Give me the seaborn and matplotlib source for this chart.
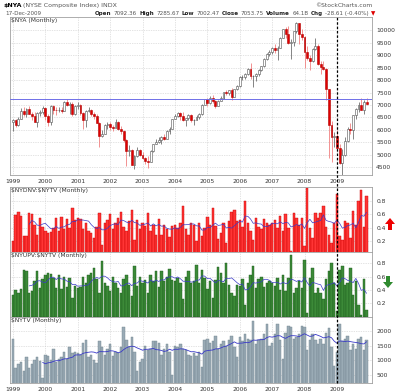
import numpy as np
import pandas as pd
import matplotlib
matplotlib.use("Agg")
import matplotlib.pyplot as plt
import seaborn as sns
from matplotlib.lines import Line2D
from matplotlib.patches import FancyArrow
import matplotlib.transforms as mtransforms

sns.set_style("white")
plt.rcParams['font.family'] = ['DejaVu Sans']
plt.rcParams['text.parse_math'] = False

# ---------------- data ----------------
year_labels = [str(y) for y in range(1999, 2010)]
month_labels = [str(p) for p in pd.period_range('1999-01', '2009-12', freq='M')]
marker_month = '2009-01'
resistance_level = 7230

nya_open = [6300, 6380, 6200, 6450, 6760, 6640, 6850, 6650, 6560, 6330, 6660, 6700,
            6880, 6570, 6310, 6940, 6800, 6790, 6800, 6750, 7130, 6990, 7030, 6620,
            6950, 7010, 6660, 6390, 6740, 6800, 6620, 6570, 6280, 5760, 5850, 6200,
            6240, 6110, 6090, 6310, 6030, 5970, 5600, 5150, 5180, 4610, 4950, 5210,
            5000, 4870, 4750, 4730, 5140, 5440, 5510, 5600, 5720, 5650, 5970, 6050,
            6440, 6560, 6660, 6560, 6390, 6460, 6580, 6380, 6390, 6530, 6620, 6990,
            7250, 7060, 7300, 7140, 6970, 7180, 7270, 7520, 7480, 7590, 7330, 7640,
            7750, 8110, 8120, 8250, 8430, 8160, 8180, 8240, 8420, 8550, 8850, 9050,
            9140, 9290, 9190, 9300, 9690, 10030, 9860, 9500, 9540, 9960, 10270, 9830,
            9740, 9110, 8870, 8760, 9230, 9380, 8630, 8520, 8460, 7630, 6190, 5700,
            5760, 5260, 4680, 5010, 5570, 6030, 6000, 6580, 6820, 7000, 6810, 7100]
nya_high = [6450, 6420, 6520, 6880, 6900, 6880, 6950, 6720, 6700, 6700, 6800, 6950,
            6920, 6640, 6980, 7000, 6900, 6900, 6900, 7160, 7230, 7100, 7120, 7000,
            7100, 7050, 6700, 6800, 6920, 6850, 6700, 6650, 6300, 6000, 6220, 6300,
            6300, 6200, 6450, 6350, 6150, 6000, 5650, 5400, 5230, 5000, 5300, 5250,
            5130, 4900, 4950, 5180, 5450, 5620, 5700, 5740, 5850, 6000, 6100, 6450,
            6650, 6700, 6720, 6720, 6480, 6620, 6620, 6440, 6580, 6680, 7020, 7260,
            7270, 7350, 7420, 7200, 7200, 7350, 7540, 7600, 7620, 7680, 7660, 7800,
            8150, 8200, 8270, 8480, 8680, 8200, 8300, 8450, 8580, 8880, 9080, 9200,
            9330, 9450, 9350, 9720, 10050, 10120, 10150, 9650, 9980, 10330, 10300, 10050,
            9750, 9350, 9000, 9300, 9680, 9450, 8750, 8750, 8500, 7650, 6350, 5900,
            6000, 5450, 5250, 5700, 6100, 6280, 6600, 6880, 7130, 7280, 7200, 7290]
nya_low = [5950, 6120, 6150, 6420, 6560, 6520, 6620, 6380, 6300, 6130, 6560, 6640,
           6400, 6150, 6200, 6650, 6600, 6700, 6680, 6740, 6950, 6650, 6550, 6580,
           6850, 6600, 6050, 6100, 6720, 6550, 6450, 6260, 5300, 5700, 5830, 6050,
           6000, 5950, 6080, 5980, 5850, 5500, 4550, 4950, 4600, 4450, 4930, 4950,
           4830, 4650, 4460, 4710, 5100, 5420, 5460, 5450, 5600, 5640, 5850, 6040,
           6420, 6500, 6380, 6350, 6150, 6400, 6300, 6200, 6380, 6420, 6600, 6980,
           6960, 7040, 7080, 6880, 6950, 7150, 7250, 7420, 7400, 7200, 7320, 7600,
           7740, 8000, 8030, 8200, 8050, 7720, 7980, 8150, 8350, 8540, 8800, 8950,
           9050, 9100, 8800, 9290, 9680, 9700, 9450, 8850, 9350, 9900, 9450, 9600,
           8500, 8800, 8400, 8720, 9200, 8600, 8250, 8400, 7200, 4880, 4700, 5300,
           5150, 4650, 4200, 4950, 5500, 5850, 5620, 6450, 6700, 6780, 6650, 7000]
nya_close = [6380, 6200, 6450, 6760, 6640, 6850, 6650, 6560, 6330, 6660, 6700, 6880,
             6570, 6310, 6940, 6800, 6790, 6800, 6750, 7130, 6990, 7030, 6620, 6950,
             7010, 6660, 6390, 6740, 6800, 6620, 6570, 6280, 5760, 5850, 6200, 6240,
             6110, 6090, 6310, 6030, 5970, 5600, 5150, 5180, 4610, 4950, 5210, 5000,
             4870, 4750, 4730, 5140, 5440, 5510, 5600, 5720, 5650, 5970, 6050, 6440,
             6560, 6660, 6560, 6390, 6460, 6580, 6380, 6390, 6530, 6620, 6990, 7250,
             7060, 7300, 7140, 6970, 7180, 7270, 7520, 7480, 7590, 7330, 7640, 7750,
             8110, 8120, 8250, 8430, 8160, 8180, 8240, 8420, 8550, 8850, 9050, 9140,
             9290, 9190, 9300, 9690, 10030, 9860, 9500, 9540, 9960, 10270, 9830, 9740,
             9110, 8870, 8760, 9230, 9380, 8630, 8520, 8460, 7630, 6190, 5700, 5760,
             5260, 4680, 5010, 5570, 6030, 6000, 6580, 6820, 7000, 6810, 7100, 7054]

down_ratio = [0.20, 0.59, 0.63, 0.58, 0.28, 0.28, 0.62, 0.60, 0.44, 0.29, 0.55, 0.42,
              0.36, 0.33, 0.34, 0.40, 0.55, 0.35, 0.56, 0.38, 0.54, 0.40, 0.70, 0.52,
              0.55, 0.53, 0.38, 0.48, 0.35, 0.33, 0.25, 0.42, 0.62, 0.15, 0.48, 0.52,
              0.60, 0.38, 0.47, 0.55, 0.63, 0.42, 0.36, 0.50, 0.67, 0.22, 0.52, 0.38,
              0.48, 0.43, 0.62, 0.35, 0.45, 0.30, 0.53, 0.30, 0.45, 0.38, 0.27, 0.43,
              0.45, 0.40, 0.48, 0.72, 0.38, 0.30, 0.48, 0.45, 0.20, 0.48, 0.28, 0.40,
              0.56, 0.45, 0.70, 0.43, 0.24, 0.32, 0.48, 0.18, 0.50, 0.63, 0.67, 0.50,
              0.52, 0.41, 0.80, 0.48, 0.35, 0.22, 0.55, 0.42, 0.38, 0.53, 0.48, 0.45,
              0.47, 0.52, 0.40, 0.58, 0.35, 0.60, 0.40, 0.05, 0.62, 0.55, 0.45, 0.55,
              0.13, 1.00, 0.40, 0.25, 0.62, 0.55, 0.62, 0.72, 0.42, 0.30, 0.18, 0.48,
              0.90, 0.28, 0.22, 0.50, 0.48, 0.25, 0.65, 0.45, 0.80, 0.97, 0.42, 0.88]
up_ratio = [0.32, 0.40, 0.36, 0.41, 0.70, 0.69, 0.36, 0.38, 0.54, 0.68, 0.43, 0.56,
            0.62, 0.65, 0.64, 0.58, 0.43, 0.63, 0.42, 0.60, 0.44, 0.58, 0.28, 0.46,
            0.43, 0.45, 0.60, 0.50, 0.63, 0.65, 0.73, 0.56, 0.36, 0.83, 0.50, 0.46,
            0.38, 0.60, 0.51, 0.43, 0.35, 0.56, 0.62, 0.48, 0.31, 0.76, 0.46, 0.60,
            0.50, 0.55, 0.36, 0.63, 0.53, 0.68, 0.45, 0.68, 0.53, 0.60, 0.71, 0.55,
            0.53, 0.58, 0.50, 0.26, 0.60, 0.68, 0.50, 0.53, 0.78, 0.50, 0.70, 0.58,
            0.42, 0.53, 0.28, 0.55, 0.74, 0.66, 0.50, 0.80, 0.48, 0.35, 0.31, 0.48,
            0.46, 0.57, 0.18, 0.50, 0.63, 0.76, 0.43, 0.56, 0.60, 0.45, 0.50, 0.53,
            0.51, 0.46, 0.58, 0.40, 0.63, 0.38, 0.58, 0.93, 0.36, 0.43, 0.53, 0.43,
            0.85, 0.05, 0.58, 0.73, 0.36, 0.43, 0.36, 0.26, 0.56, 0.68, 0.80, 0.50,
            0.08, 0.70, 0.76, 0.48, 0.50, 0.73, 0.33, 0.53, 0.18, 0.03, 0.56, 0.10]
volume = [1750, 750, 870, 940, 650, 1100, 720, 880, 1020, 1100, 980, 380,
          1200, 1150, 1000, 1400, 950, 1050, 1100, 1300, 1050, 1450, 1250, 1300,
          1250, 1200, 1600, 1700, 1100, 1200, 1000, 900, 1650, 1450, 1200, 1400,
          1550, 1150, 1300, 1250, 1450, 2150, 1700, 1450, 1800, 1300, 640, 950,
          1050, 1500, 1350, 1400, 1650, 1650, 1600, 1200, 1400, 1550, 1300, 500,
          1500, 1450, 1550, 1400, 1350, 1200, 1150, 1250, 1150, 1300, 780, 1700,
          1750, 1600, 1650, 1850, 1400, 1550, 1650, 1500, 1700, 1850, 1450, 1100,
          1800, 1650, 1900, 1750, 1700, 2350, 1550, 1700, 1750, 1900, 2250, 1500,
          1600, 1900, 2250, 1700, 1050, 1950, 2200, 2150, 1750, 1800, 1900, 2200,
          2150, 1350, 1700, 1900, 1700, 1550, 1750, 1550, 1950, 2100, 1450, 800,
          1300, 2250, 1650, 1750, 1850, 1350, 1550, 1400, 1750, 1800, 1350, 1700]

price_ticks = [4500, 5000, 5500, 6000, 6500, 7000, 7500, 8000, 8500, 9000, 9500, 10000]
ratio_ticks = [0.2, 0.4, 0.6, 0.8]
volume_ticks = [500, 1000, 1500, 2000]

df = pd.DataFrame({'month': np.arange(len(month_labels)), 'label': month_labels,
                   'open': nya_open, 'high': nya_high, 'low': nya_low, 'close': nya_close,
                   'down': down_ratio, 'up': up_ratio, 'volume': volume})
df['down_ma'] = df['down'].rolling(7).mean()
df['up_ma'] = df['up'].rolling(7).mean()
df['vol_ma'] = df['volume'].rolling(12).mean()
year_pos = df.loc[df['label'].str.endswith('-01'), 'month'].tolist()
marker_x = df.loc[df['label'] == marker_month, 'month'].iloc[0]

# ---------------- figure ----------------
fig = plt.figure(figsize=(4.0, 3.92), dpi=100)
L, W = 0.025, 0.905
ax1 = fig.add_axes([L, 0.5536, W, 0.403])
ax2 = fig.add_axes([L, 0.357, W, 0.166])
ax3 = fig.add_axes([L, 0.191, W, 0.166])
ax4 = fig.add_axes([L, 0.023, W, 0.168])

grid_kw = dict(color='#c8c8c8', linestyle=(0, (1, 1.5)), linewidth=0.5)
tick_fs = 4.3
for ax in (ax1, ax2, ax3, ax4):
    ax.set_xlim(-1.1, 133.0)
    ax.yaxis.tick_right()
    ax.set_xticks(year_pos)
    ax.grid(True, **grid_kw)
    ax.set_axisbelow(True)
    for s in ax.spines.values():
        s.set_color('#a0a0a0')
        s.set_linewidth(0.6)
    ax.tick_params(axis='both', length=0, labelsize=tick_fs, colors='#333333', pad=3)
    ax.set_xlabel('')
    ax.set_ylabel('')

# ---- price candles ----
up = df['close'] >= df['open']
body_bottom = np.minimum(df['open'], df['close'])
body_h = np.abs(df['close'] - df['open'])
wick_col = np.where(up, '#707070', '#f08080')
ax1.vlines(df['month'], df['low'], df['high'], colors=wick_col, linewidth=0.6, zorder=2)
ax1.bar(df['month'], body_h, bottom=body_bottom, width=0.7,
        color=np.where(up, 'white', '#e00000'),
        edgecolor=np.where(up, '#505050', '#b00000'), linewidth=0.4, zorder=3)
ax1.axhline(resistance_level, color='#6f6fe8', linewidth=0.7, zorder=4)
ax1.set_ylim(4200, 10520)
ax1.set_yticks(price_ticks)
ax1.set_yticklabels([str(v) for v in price_ticks])
ax1.set_xticklabels(year_labels)
ax1.text(0.004, 0.992, "$NYA (Monthly)", transform=ax1.transAxes, ha='left', va='top',
         fontsize=4.3, color='#333333')

# ---- ratio panels ----
sns.barplot(data=df, x='month', y='down', native_scale=True, ax=ax2, color='#ff3535',
            edgecolor='#c80000', linewidth=0.3, width=0.9, errorbar=None, saturation=1)
sns.lineplot(data=df, x='month', y='down_ma', ax=ax2, color='#3a3ac8', linewidth=0.5)
ax2.set_ylim(0.04, 1.01)
ax2.set_yticks(ratio_ticks)
ax2.set_yticklabels([f"{v:.1f}" for v in ratio_ticks])
ax2.set_xticklabels([])
ax2.text(0.004, 0.985, "$NYDNV:$NYTV (Monthly)", transform=ax2.transAxes, ha='left',
         va='top', fontsize=4.3, color='#333333')

sns.barplot(data=df, x='month', y='up', native_scale=True, ax=ax3, color='#3c8a38',
            edgecolor='#1c5a1c', linewidth=0.3, width=0.9, errorbar=None, saturation=1)
sns.lineplot(data=df, x='month', y='up_ma', ax=ax3, color='#3a3ac8', linewidth=0.5)
ax3.set_ylim(-0.005, 0.97)
ax3.set_yticks(ratio_ticks)
ax3.set_yticklabels([f"{v:.1f}" for v in ratio_ticks])
ax3.set_xticklabels([])
ax3.text(0.004, 0.985, "$NYUPV:$NYTV (Monthly)", transform=ax3.transAxes, ha='left',
         va='top', fontsize=4.3, color='#333333')

sns.barplot(data=df, x='month', y='volume', native_scale=True, ax=ax4, color='#9aabb5',
            edgecolor='#71848f', linewidth=0.3, width=0.9, errorbar=None, saturation=1)
sns.lineplot(data=df, x='month', y='vol_ma', ax=ax4, color='#3a3ac8', linewidth=0.6)
ax4.set_ylim(220, 2490)
ax4.set_yticks(volume_ticks)
ax4.set_yticklabels([str(v) for v in volume_ticks])
ax4.set_xticklabels(year_labels)
ax4.text(0.004, 0.985, "$NYTV (Monthly)", transform=ax4.transAxes, ha='left',
         va='top', fontsize=4.3, color='#333333')

for ax in (ax1, ax2, ax3, ax4):
    ax.set_xlim(-1.1, 133.0)
    ax.set_xlabel('')
    ax.set_ylabel('')

# ---- dashed marker line ----
trans = mtransforms.blended_transform_factory(ax1.transData, fig.transFigure)
fig.add_artist(Line2D([marker_x, marker_x], [0.023, 0.957], transform=trans,
                      color='black', linestyle=(0, (2.0, 1.5)), linewidth=0.9, zorder=10))

# ---- arrows ----
fig.add_artist(FancyArrow(390 / 400, 1 - 230 / 392, 0, 12 / 392, width=4 / 400,
                          head_width=10 / 400, head_length=6 / 392,
                          length_includes_head=True, transform=fig.transFigure,
                          color='#ee0000', linewidth=0))
fig.add_artist(FancyArrow(388 / 400, 1 - 276 / 392, 0, -12 / 392, width=4 / 400,
                          head_width=10 / 400, head_length=6 / 392,
                          length_includes_head=True, transform=fig.transFigure,
                          color='#2e8a2e', linewidth=0))

# ---- header ----
renderer = fig.canvas.get_renderer()


def write_runs(x, y, runs, size, gap=1.6):
    for txt, weight, color in runs:
        t = fig.text(x, y, txt, fontsize=size, fontweight=weight, color=color,
                     ha='left', va='center')
        bb = t.get_window_extent(renderer=renderer)
        x += bb.width / fig.bbox.width + gap / 400


write_runs(3 / 400, 1 - 5.5 / 392, [("$NYA", 'bold', 'black'),
                                   ("(NYSE Composite Index) INDX", 'normal', '#555555')], 4.5)
fig.text(372 / 400, 1 - 5.5 / 392, "©StockCharts.com", fontsize=4.3, color='#555555',
         ha='right', va='center')
fig.text(5 / 400, 1 - 13.5 / 392, "17-Dec-2009", fontsize=4.1, color='#555555',
         ha='left', va='center')
write_runs(95 / 400, 1 - 13.5 / 392,
           [("Open", 'bold', '#222222'), ("7092.36", 'normal', '#555555'),
            ("High", 'bold', '#222222'), ("7285.67", 'normal', '#555555'),
            ("Low", 'bold', '#222222'), ("7002.47", 'normal', '#555555'),
            ("Close", 'bold', '#222222'), ("7053.75", 'normal', '#555555'),
            ("Volume", 'bold', '#222222'), ("64.1B", 'normal', '#555555'),
            ("Chg", 'bold', '#222222'), ("-28.61 (-0.40%)", 'normal', '#555555'),
            ("▼", 'normal', '#dd0000')], 4.1, gap=2.2)

fig.savefig("out.png", dpi=100)
